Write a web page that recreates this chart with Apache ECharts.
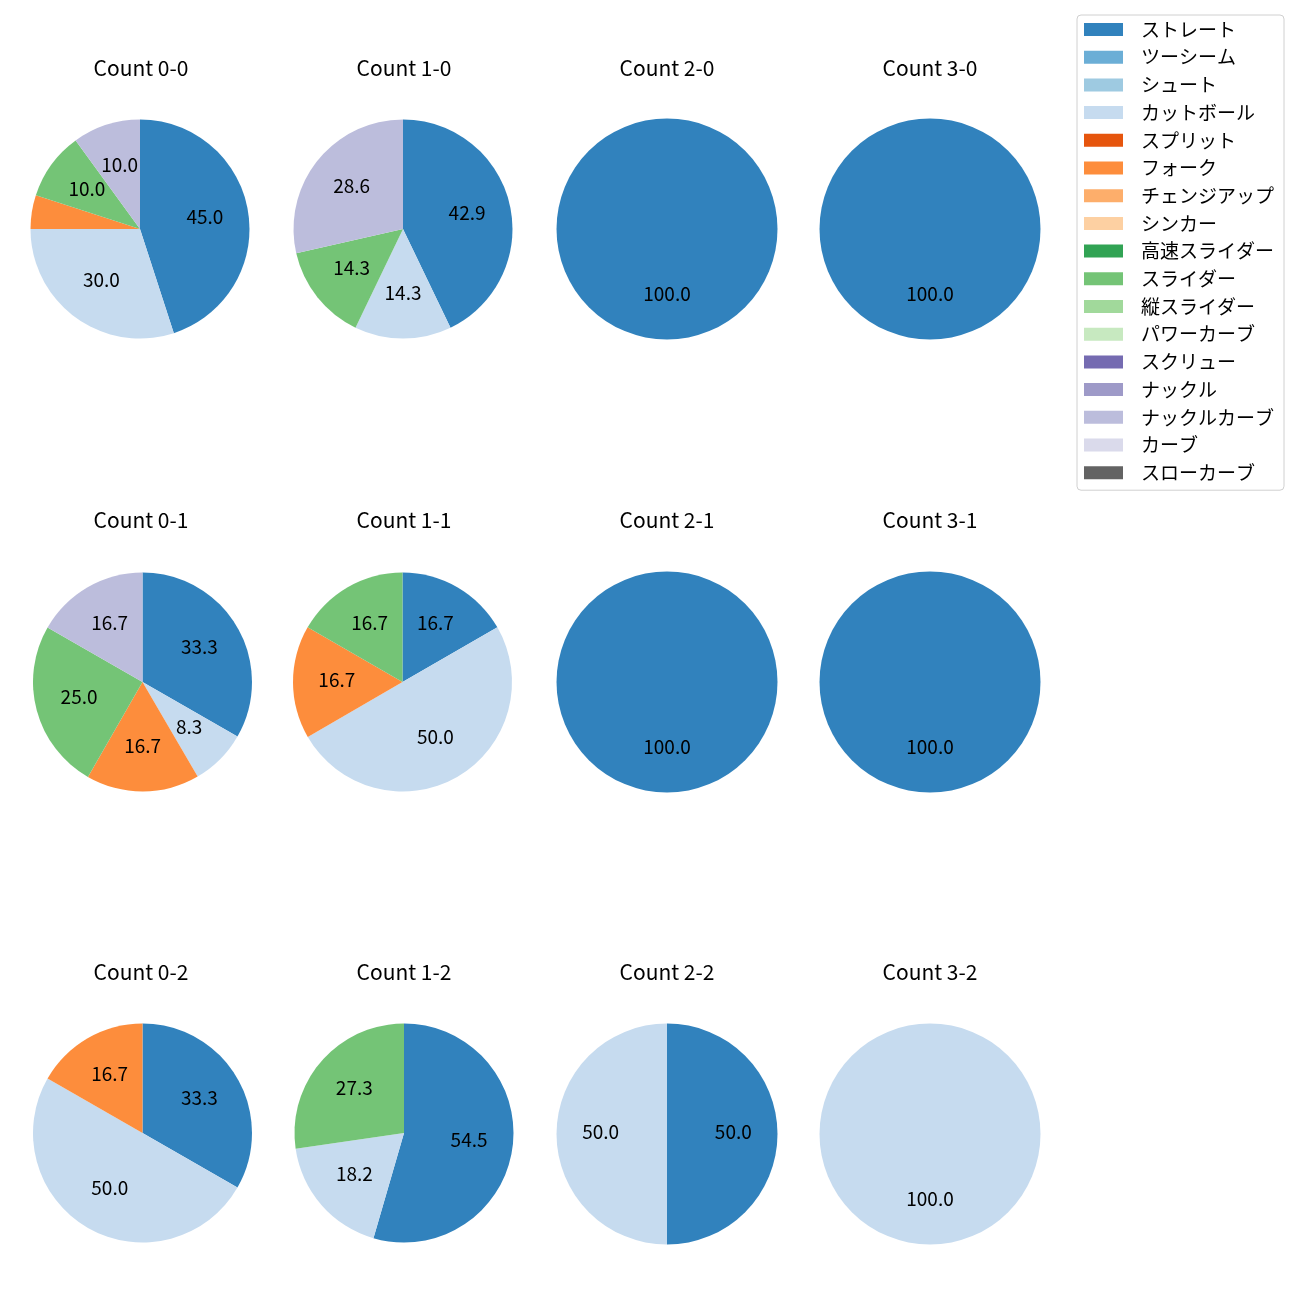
<!DOCTYPE html>
<html>
<head>
<meta charset="utf-8">
<script src="https://cdn.jsdelivr.net/npm/echarts@6/dist/echarts.min.js"></script>
<style>
html,body{margin:0;padding:0;background:#fff;}
#chart{width:1300px;height:1300px;}
</style>
</head>
<body>
<div id="chart"></div>
<script>
// Pitch types (legend order)
const pitchTypes = ['ストレート','ツーシーム','シュート','カットボール','スプリット','フォーク','チェンジアップ','シンカー','高速スライダー','スライダー','縦スライダー','パワーカーブ','スクリュー','ナックル','ナックルカーブ','カーブ','スローカーブ'];
const colors = ['#3182bd','#6baed6','#9ecae1','#c6dbef','#e6550d','#fd8d3c','#fdae6b','#fdd0a2','#31a354','#74c476','#a1d99b','#c7e9c0','#756bb1','#9e9ac8','#bcbddc','#dadaeb','#636363'];

// Panel titles
const counts = ['Count 0-0','Count 1-0','Count 2-0','Count 3-0',
                'Count 0-1','Count 1-1','Count 2-1','Count 3-1',
                'Count 0-2','Count 1-2','Count 2-2','Count 3-2'];

// Percentages per panel, in pitchTypes order
const c00 = [45.0,0,0,30.0,0,5.0,0,0,0,10.0,0,0,0,0,10.0,0,0];
const c10 = [42.9,0,0,14.3,0,0,0,0,0,14.3,0,0,0,0,28.6,0,0];
const c20 = [100.0,0,0,0,0,0,0,0,0,0,0,0,0,0,0,0,0];
const c30 = [100.0,0,0,0,0,0,0,0,0,0,0,0,0,0,0,0,0];
const c01 = [33.3,0,0,8.3,0,16.7,0,0,0,25.0,0,0,0,0,16.7,0,0];
const c11 = [16.7,0,0,50.0,0,16.7,0,0,0,16.7,0,0,0,0,0,0,0];
const c21 = [100.0,0,0,0,0,0,0,0,0,0,0,0,0,0,0,0,0];
const c31 = [100.0,0,0,0,0,0,0,0,0,0,0,0,0,0,0,0,0];
const c02 = [33.3,0,0,50.0,0,16.7,0,0,0,0,0,0,0,0,0,0,0];
const c12 = [54.5,0,0,18.2,0,0,0,0,0,27.3,0,0,0,0,0,0,0];
const c22 = [50.0,0,0,50.0,0,0,0,0,0,0,0,0,0,0,0,0,0];
const c32 = [0,0,0,100.0,0,0,0,0,0,0,0,0,0,0,0,0,0];
const panels = [c00,c10,c20,c30,c01,c11,c21,c31,c02,c12,c22,c32];

// layout (pixels)
const centers = [
  [140,229],[403,229],[667,229],[930,229],
  [142.5,682],[402.5,682],[667,682],[930,682],
  [142.5,1133],[404,1133],[667,1134],[930,1134]
];
const radii = [109.5,109.5,110.5,110.5, 109.5,109.5,110.5,110.5, 109.5,109.5,110.5,110.5];
const titleX = [141,404,667,930];
const titleY = [69,521,973];

const FONT = '"Noto Sans CJK JP", "Noto Sans", sans-serif';

const series = [];
const titles = [];
panels.forEach((vals, i) => {
  const data = vals.map((v, k) => ({name: pitchTypes[k], value: v, itemStyle: {color: colors[k]}}));
  const r = radii[i];
  series.push({
    type: 'pie',
    center: centers[i],
    radius: [0, r],
    startAngle: 90,
    clockwise: true,
    avoidLabelOverlap: false,
    animation: false,
    silent: true,
    label: {show: false},
    labelLine: {show: false},
    itemStyle: {borderWidth: 0},
    emphasis: {disabled: true},
    data: data
  });
  // transparent ring used only to place labels at ~0.6 r
  series.push({
    type: 'pie',
    center: centers[i],
    radius: [0.2 * r - 6, r],
    startAngle: 90,
    clockwise: true,
    avoidLabelOverlap: false,
    animation: false,
    silent: true,
    legendHoverLink: false,
    label: {
      show: true,
      position: 'inside',
      offset: [0, -2],
      fontFamily: FONT,
      fontSize: 19,
      color: '#000',
      formatter: p => (p.value > 5 ? p.value.toFixed(1) : '')
    },
    labelLine: {show: false},
    itemStyle: {color: 'rgba(0,0,0,0)', borderWidth: 0},
    emphasis: {disabled: true},
    data: vals.map((v, k) => ({name: pitchTypes[k], value: v}))
  });
  titles.push({
    text: counts[i],
    left: titleX[i % 4],
    top: titleY[Math.floor(i / 4)] - 1,
    padding: 0,
    textAlign: 'center',
    textVerticalAlign: 'middle',
    textStyle: {fontFamily: FONT, fontSize: 21, fontWeight: 'normal', color: '#000'}
  });
});

const chart = echarts.init(document.getElementById('chart'), null, {renderer: 'canvas'});
chart.setOption({
  backgroundColor: '#fff',
  animation: false,
  title: titles,
  legend: {
    orient: 'vertical',
    left: 1077,
    top: 15,
    padding: [5, 10, 8, 7],
    itemWidth: 39,
    itemHeight: 13,
    itemGap: 8.7,
    icon: 'rect',
    selectedMode: false,
    borderColor: '#d0d0d0',
    borderWidth: 1,
    borderRadius: 4,
    textStyle: {fontFamily: FONT, fontSize: 19, color: '#000', padding: [0, 0, 0, 13]},
    data: pitchTypes.map((n, k) => ({name: n, itemStyle: {color: colors[k]}}))
  },
  series: series
});
</script>
</body>
</html>
